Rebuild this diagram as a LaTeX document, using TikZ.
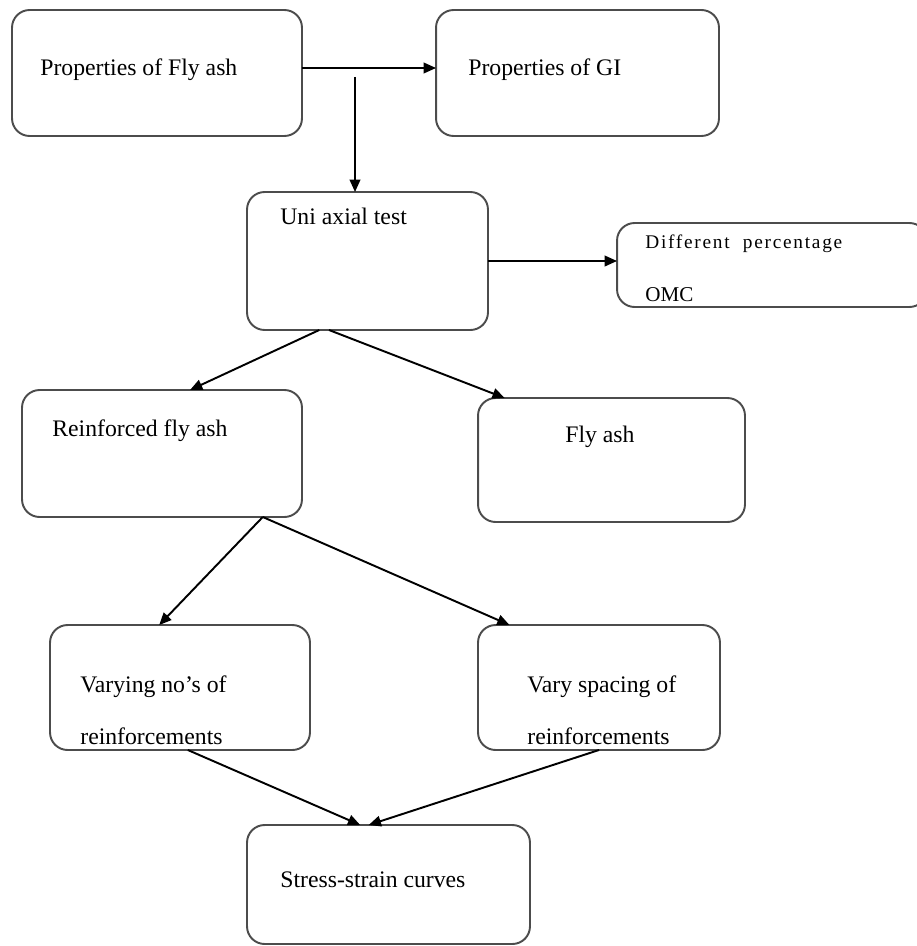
\documentclass[tikz,border=0pt]{standalone}
\usepackage{fontspec}
\setmainfont{Liberation Serif}
\newfontfamily\spacedfont[LetterSpace=9]{Liberation Serif}
\usetikzlibrary{arrows.meta,calc}

\begin{document}
\begin{tikzpicture}[x=0.02cm,y=-0.02cm,
 box/.style={draw=black!70,line width=1.1pt,rounded corners=10pt,inner sep=0pt,outer sep=0pt},
 txt/.style={anchor=west,inner sep=0pt,font=\fontsize{13.5}{16}\selectfont},
 twoline/.style={anchor=west,inner sep=0pt,align=left,font=\fontsize{13.5}{29.5}\selectfont},
 arr/.style={line width=1.1pt,-{Triangle[length=7pt,width=6pt]}}]
\useasboundingbox (0,0) rectangle (916,946);

\node[box,minimum width=5.8cm,minimum height=2.52cm] (pfa) at (157,73) {};
\node[box,minimum width=5.66cm,minimum height=2.52cm] (pgi) at (577.5,73) {};
\node[box,minimum width=4.82cm,minimum height=2.76cm] (uni) at (367.5,261) {};
\node[box,minimum width=6.2cm,minimum height=1.68cm] (omc) at (772,265) {};
\node[box,minimum width=5.6cm,minimum height=2.54cm] (rfa) at (162,453.5) {};
\node[box,minimum width=5.34cm,minimum height=2.48cm] (fa) at (611.5,460) {};
\node[box,minimum width=5.2cm,minimum height=2.5cm] (vno) at (180,687.5) {};
\node[box,minimum width=4.84cm,minimum height=2.5cm] (vsp) at (599,687.5) {};
\node[box,minimum width=5.66cm,minimum height=2.38cm] (ssc) at (388.5,884.5) {};

% texts
\node[txt] (pfa_t) at (40,70) {Properties of Fly ash};
\node[txt] (pgi_t) at (468,70) {Properties of GI};
\node[txt] (uni_t) at (280,216) {Uni axial test};
\node[anchor=west,inner sep=0pt,font=\spacedfont\fontsize{11}{13}\selectfont] (omc_t1) at (645,244) {Different \ percentage};
\node[anchor=west,inner sep=0pt,font=\fontsize{12}{14}\selectfont] (omc_t2) at (645,295) {OMC};
\node[txt] (rfa_t) at (52,431) {Reinforced fly ash};
\node[txt] (fa_t) at (565,437) {Fly ash};
\node[twoline] (vno_t) at (80,710) {Varying no’s of\\reinforcements};
\node[twoline] (vsp_t) at (527,710) {Vary spacing of\\reinforcements};
\node[txt] (ssc_t) at (280,880) {Stress-strain curves};

% arrows
\coordinate (pfa_out) at ($(pfa.east)+(0,-5)$);
\coordinate (split) at (355,77);
\draw[arr] (pfa_out) -- (pfa_out -| pgi.west);
\draw[arr] (split) -- (split |- uni.north);
\draw[arr] (uni.east) -- (uni.east -| omc.west);
\draw[arr] ($(uni.south west)!.30!(uni.south east)$) -- ($(rfa.north west)!.60!(rfa.north east)$);
\draw[arr] ($(uni.south west)!.34!(uni.south east)$) -- ($(fa.north west)!.10!(fa.north east)$);
\draw[arr] ($(rfa.south west)!.86!(rfa.south east)$) -- ($(vno.north west)!.42!(vno.north east)$);
\draw[arr] ($(rfa.south west)!.86!(rfa.south east)$) -- ($(vsp.north west)!.13!(vsp.north east)$);
\draw[arr] ($(vno.south west)!.53!(vno.south east)$) -- ($(ssc.north west)!.40!(ssc.north east)$);
\draw[arr] ($(vsp.south west)!.50!(vsp.south east)$) -- ($(ssc.north west)!.43!(ssc.north east)$);
\end{tikzpicture}
\end{document}
